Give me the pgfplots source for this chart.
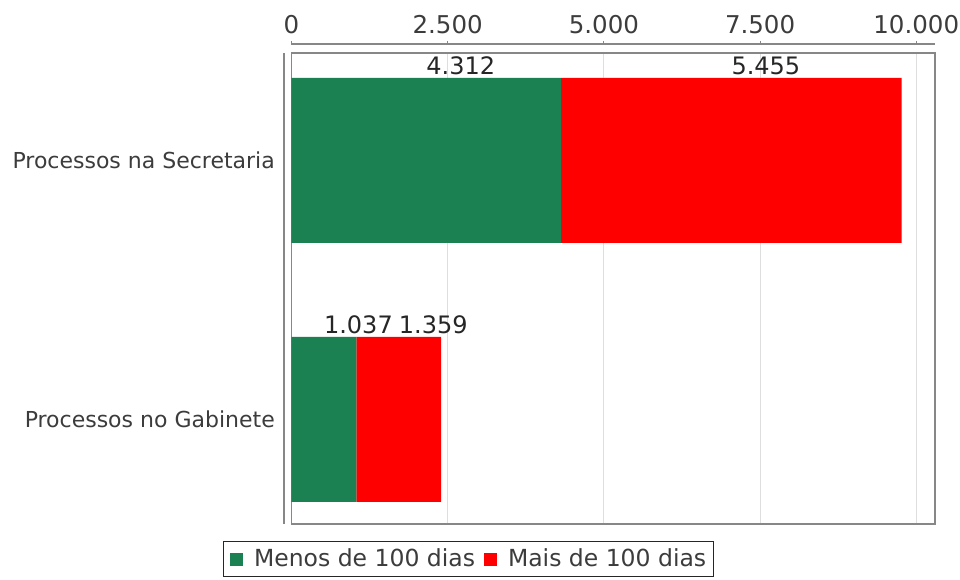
\documentclass[border=0pt]{standalone}
\usepackage{pgfplots}
\pgfplotsset{compat=1.18}
\usepackage{fontspec}
\setmainfont{DejaVu Sans}
\definecolor{cgreen}{RGB}{27,128,82}
\definecolor{cred}{RGB}{255,0,0}
\definecolor{ctext}{RGB}{60,60,60}
\definecolor{cgrid}{RGB}{222,222,222}
\definecolor{cframe}{RGB}{135,135,135}
\begin{document}
\fontsize{22bp}{26bp}\selectfont
\begin{tikzpicture}[x=1bp,y=1bp]
\path[use as bounding box] (-291.5,-56) rectangle (668.5,524);
\begin{axis}[
  at={(0bp,0bp)}, anchor=south west,
  xbar stacked,
  width=643.5bp, height=471bp, scale only axis,
  xmin=0, xmax=10300, ymin=-0.4035, ymax=1.415,
  bar width=165bp,
  xtick={0,2500,5000,7500,10000}, xticklabel=\empty, scaled x ticks=false,
  xmajorgrids, grid style={cgrid, line width=1bp},
  tick style={draw=none}, major tick length=0pt,
  ytick={0,1}, yticklabels={Processos no Gabinete, Processos na Secretaria},
  yticklabel style={anchor=east, inner sep=0pt, xshift=-16.5bp, text=ctext, font=\fontsize{22bp}{26bp}\selectfont},
  axis line style={cframe, line width=1.5bp},
  legend columns=-1,
  legend style={at={(0.2745,-0.036)}, anchor=north, draw=black!85, line width=1bp,
    font=\fontsize{23.5bp}{27bp}\selectfont, text=ctext, inner xsep=7bp, inner ysep=5bp,
    nodes={inner xsep=0pt},
    /tikz/every even column/.append style={column sep=9bp},
    /tikz/every odd column/.append style={column sep=11bp}},
  legend image code/.code={\fill[#1] (0bp,-6.5bp) rectangle (13bp,6.5bp);},
]
\addplot[fill=cgreen, draw=none] coordinates {(1037,0) (4312,1)};
\addplot[fill=cred, draw=none] coordinates {(1359,0) (5455,1)};
\legend{Menos de 100 dias, Mais de 100 dias}
\node[anchor=west, inner sep=0pt, text=black!85, font=\fontsize{24bp}{28bp}\selectfont] at (axis cs:2156,1.365) {4.312};
\node[anchor=west, inner sep=0pt, text=black!85, font=\fontsize{24bp}{28bp}\selectfont] at (axis cs:7039.5,1.365) {5.455};
\node[anchor=west, inner sep=0pt, text=black!85, font=\fontsize{24bp}{28bp}\selectfont] at (axis cs:518.5,0.365) {1.037};
\node[anchor=west, inner sep=0pt, text=black!85, font=\fontsize{24bp}{28bp}\selectfont] at (axis cs:1716.5,0.365) {1.359};
\end{axis}
\begin{axis}[
  at={(0bp,479bp)}, anchor=south west,
  width=643.5bp, height=1bp, scale only axis,
  xmin=0, xmax=10300, ymin=0, ymax=1,
  axis x line=top, axis y line=none,
  axis line style={cframe, line width=1.5bp, -},
  xtick={0,2500,5000,7500,10000},
  xtick align=outside, major tick length=3bp,
  tick style={cframe, line width=1bp},
  scaled x ticks=false,
  /pgf/number format/fixed,
  /pgf/number format/1000 sep={.},
  /pgf/number format/assume math mode=true,
  xticklabel style={text=ctext, font=\fontsize{24.5bp}{28bp}\selectfont, inner sep=0pt, anchor=south, yshift=7bp},
]
\end{axis}
\draw[cframe, line width=1.5bp] (-7.5,0) -- (-7.5,471);
\end{tikzpicture}
\end{document}
